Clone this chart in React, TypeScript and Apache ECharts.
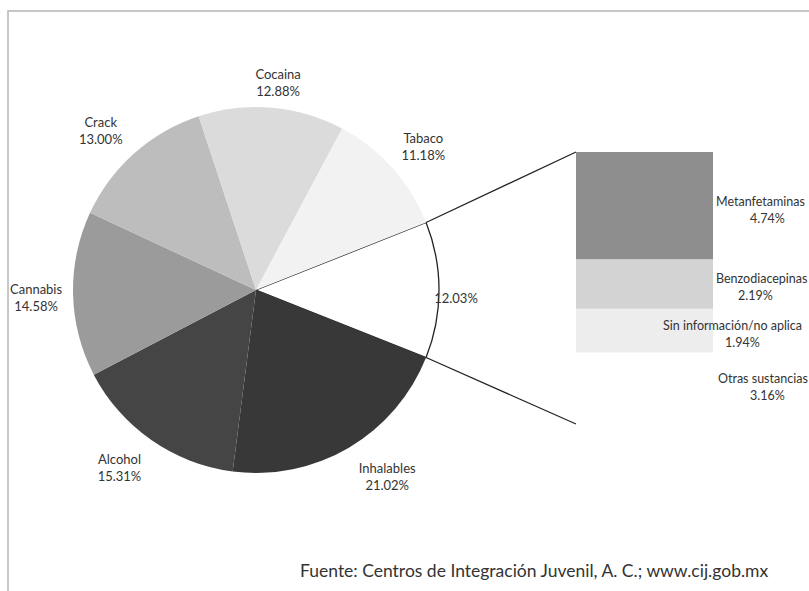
import React, { useEffect, useRef } from "react";
import * as echarts from "echarts";

// Pie data (clockwise from the exploded "Otras" slice)
const pieNames = ["Otras", "Inhalables", "Alcohol", "Cannabis", "Crack", "Cocaina", "Tabaco"];
const pieValues = [12.03, 21.02, 15.31, 14.58, 13.0, 12.88, 11.18];
const pieColors = ["#ffffff", "#383838", "#454545", "#9b9b9b", "#bdbdbd", "#dbdbdb", "#f2f2f2"];

// Bar breakdown of "Otras" (bottom to top)
const barNames = ["Otras sustancias", "Sin información/no aplica", "Benzodiacepinas", "Metanfetaminas"];
const barValues = [3.16, 1.94, 2.19, 4.74];
const barColors = ["#ffffff", "#ededed", "#d3d3d3", "#8e8e8e"];

const footer = "Fuente: Centros de Integración Juvenil, A. C.; www.cij.gob.mx";

// layout
const CX = 256;
const CY = 290;
const R = 183;
const GRID = { left: 576, top: 152, width: 137, height: 272 };

// label nudges (px) for pie labels: [dx, dy]
const pieLabelNudge: [number, number][] = [
  [-23, 8], [18, -6], [-9, -5], [3, 2], [-7, 7], [3, 15], [1, 5],
];
// bar label: x from bar left, value indent, vertical nudge
const barLabelX = [142, 87, 140, 140];
const barValueIndent = [32, 62, 22, 34];
const barLabelDy = [-1, 3, 3, 4];

const FONT = "Lato";
const FS = 13;
const BFS = 12.5;

export default function App() {
  const ref = useRef<HTMLDivElement>(null);
  useEffect(() => {
    if (!ref.current) return;
    const chart = echarts.init(ref.current, null, { renderer: "svg" });
    const total = pieValues.reduce((a, b) => a + b, 0);
    const startAngle = (pieValues[0] / total) * 180;
    const rad = (startAngle * Math.PI) / 180;
    const ex = CX + R * Math.cos(rad);
    const eyTop = CY - R * Math.sin(rad);
    const eyBot = CY + R * Math.sin(rad);
    const barTotal = barValues.reduce((a, b) => a + b, 0);

    chart.setOption({
      animation: false,
      textStyle: { fontFamily: FONT },
      title: {
        text: footer,
        left: 295,
        top: 556,
        textStyle: { fontFamily: FONT, fontSize: 17.5, fontWeight: "normal", color: "#333" },
      },
      graphic: [
        {
          type: "rect",
          silent: true,
          z: -10,
          shape: { x: 8, y: 11, width: 1000, height: 1000 },
          style: { fill: "none", stroke: "#b4b4b4", lineWidth: 1.5 },
        },
        {
          type: "line",
          silent: true,
          shape: { x1: ex, y1: eyTop, x2: GRID.left, y2: GRID.top },
          style: { stroke: "#222", lineWidth: 1.2 },
        },
        {
          type: "line",
          silent: true,
          shape: { x1: ex, y1: eyBot, x2: GRID.left, y2: GRID.top + GRID.height },
          style: { stroke: "#222", lineWidth: 1.2 },
        },
      ],
      grid: { ...GRID },
      xAxis: { type: "category", data: ["Otras"], show: false },
      yAxis: { type: "value", min: 0, max: barTotal, show: false },
      series: [
        {
          type: "pie",
          silent: true,
          center: [CX, CY],
          radius: R,
          startAngle,
          clockwise: true,
          label: { show: false },
          labelLine: { show: false },
          data: pieNames.map((n, i) => ({
            name: n,
            value: pieValues[i],
            itemStyle: {
              color: pieColors[i],
              borderColor: i === 0 ? "#222" : pieColors[i],
              borderWidth: i === 0 ? 1.3 : 0,
            },
          })),
        },
        {
          type: "pie",
          silent: true,
          center: [CX, CY],
          radius: [R, R + 74],
          startAngle,
          clockwise: true,
          itemStyle: { color: "rgba(0,0,0,0)" },
          labelLine: { show: false },
          data: pieNames.map((n, i) => ({ name: n, value: pieValues[i] })),
          labelLayout: (p: any) => ({
            dx: pieLabelNudge[p.dataIndex][0],
            dy: pieLabelNudge[p.dataIndex][1],
          }),
          label: {
            show: true,
            position: "inside",
            rotate: 0,
            overflow: "none",
            fontFamily: FONT,
            fontSize: FS,
            lineHeight: 17,
            color: "#333",
            formatter: (p: any) =>
              p.dataIndex === 0 ? `${p.value.toFixed(2)}%` : `${p.name}\n${p.value.toFixed(2)}%`,
          },
        },
        ...barNames.map((n, i) => ({
          type: "bar",
          name: n,
          stack: "otras",
          barWidth: "100%",
          silent: true,
          data: [barValues[i]],
          itemStyle: { color: barColors[i] },
          labelLayout: { dy: barLabelDy[i] },
          label: {
            show: true,
            position: [barLabelX[i], "50%"],
            align: "left",
            verticalAlign: "middle",
            formatter: `{n|${n}}\n{v|${barValues[i].toFixed(2)}%}`,
            rich: {
              n: { fontFamily: FONT, fontSize: BFS, color: "#333", lineHeight: 17 },
              v: {
                fontFamily: FONT,
                fontSize: BFS,
                color: "#333",
                lineHeight: 17,
                padding: [0, 0, 0, barValueIndent[i]],
              },
            },
          },
        })),
      ],
    });
    return () => chart.dispose();
  }, []);
  return (
    <div
      ref={ref}
      style={{ position: "fixed", left: 0, top: 0, width: 809, height: 591, background: "#fff" }}
    />
  );
}
